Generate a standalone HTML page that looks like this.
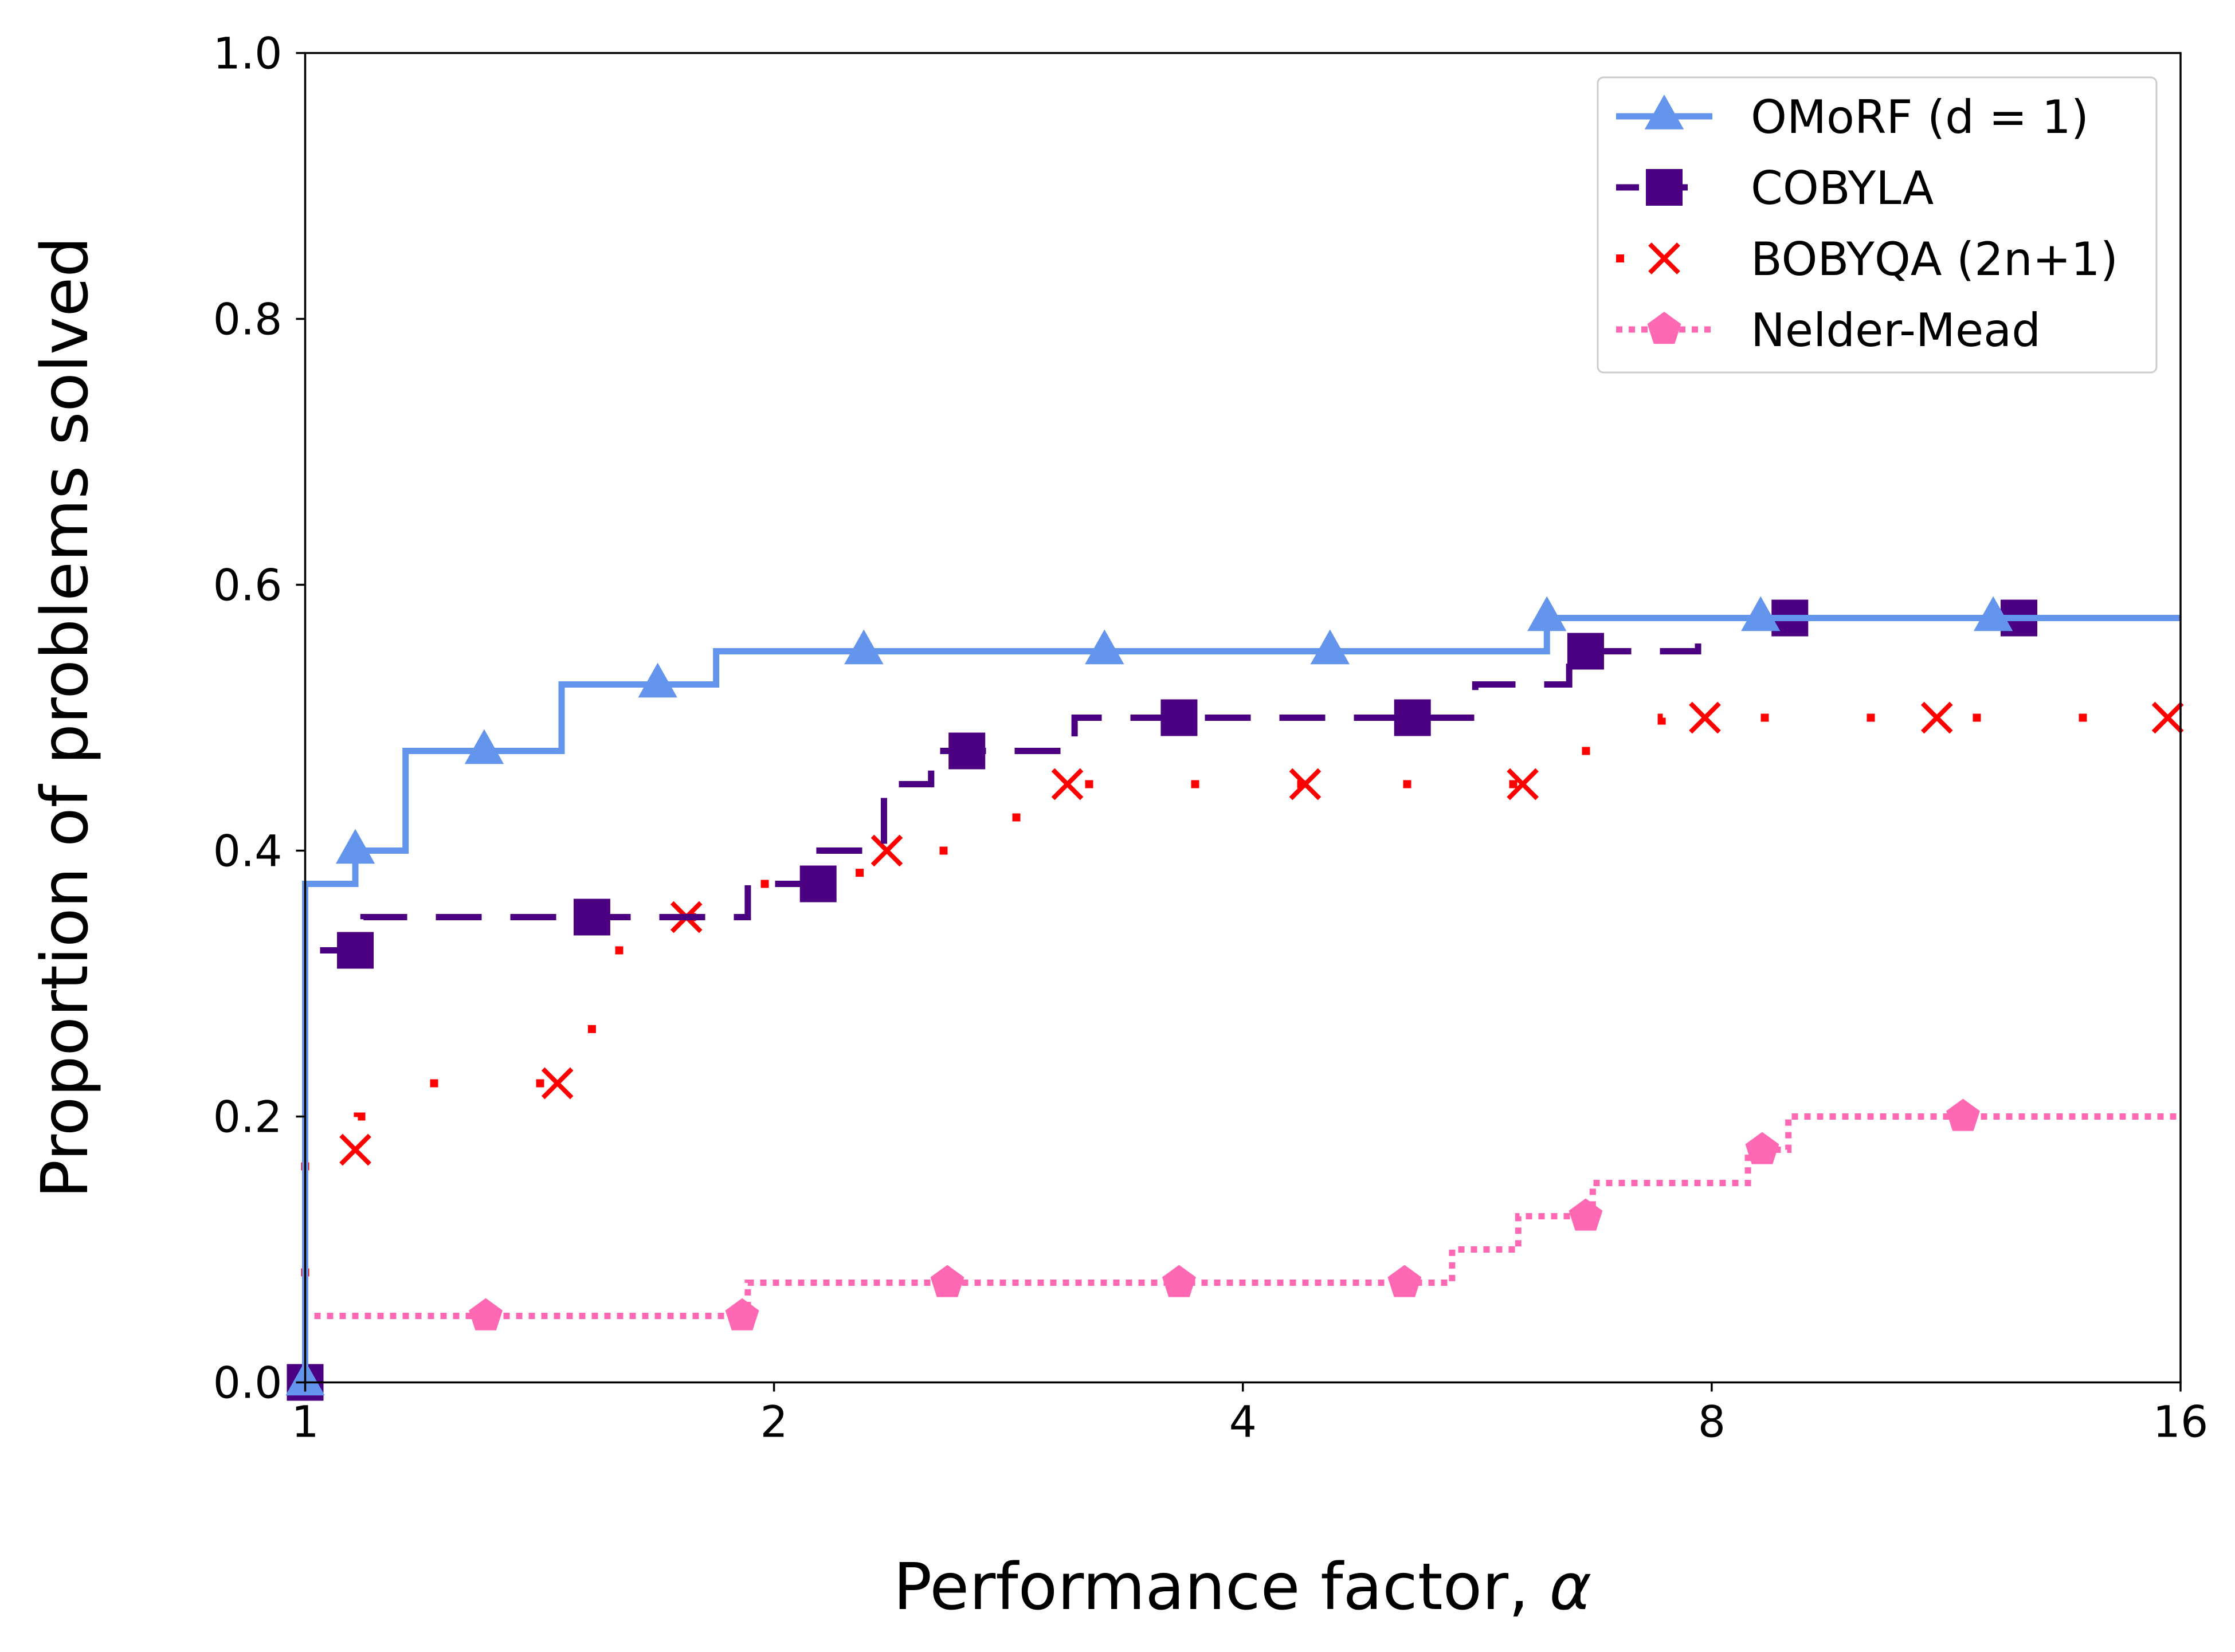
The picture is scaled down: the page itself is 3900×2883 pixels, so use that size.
<!DOCTYPE html>
<html><head><meta charset="utf-8"><style>
html,body{margin:0;padding:0;background:#fff;}
svg{display:block;font-family:"DejaVu Sans","Liberation Sans",sans-serif;}
</style></head><body>
<svg id="chart" width="3900" height="2883" viewBox="0 0 3900 2883" xmlns="http://www.w3.org/2000/svg">
<rect width="3900" height="2883" fill="#fff"/>
<g id="plot"></g>
<g id="axes"></g>
<text x="2168" y="2808" font-size="112" text-anchor="middle">Performance factor, <tspan font-style="italic">α</tspan></text>
<text transform="translate(152,1252) rotate(-90)" font-size="112" text-anchor="middle">Proportion of problems solved</text>
<g id="legend"></g>
</svg>
<script>
const xTicks=[1,2,4,8,16];
const yTicks=[0,0.2,0.4,0.6,0.8,1.0];
const yTickLabels=["0.0","0.2","0.4","0.6","0.8","1.0"];
const omorfAlpha=[1,1.077,1.16,1.461,1.836,6.27];
const omorfVal=[0.375,0.4,0.475,0.525,0.55,0.575];
const omorfMarks=[1,1.077,1.303,1.684,2.284,3.26,4.55,6.27,8.60,12.13];
const cobylaAlpha=[1,1.09,1.924,2.139,2.353,2.523,3.119,5.64,6.48,7.84];
const cobylaVal=[0.325,0.35,0.375,0.4,0.45,0.475,0.5,0.525,0.55,0.575];
const cobylaMarks=[1,1.077,1.528,2.135,2.66,3.64,5.14,6.64,8.98,12.6];
const bobyqaAlpha=[1,1.081,1.177,1.528,1.688,1.916,2.27,2.80,3.05,6.41,7.43];
const bobyqaVal=[0.175,0.2,0.225,0.325,0.35,0.375,0.4,0.425,0.45,0.475,0.5];
const bobyqaMarks=[1,1.077,1.452,1.757,2.363,3.086,4.386,6.05,7.92,11.16,15.7];
const nmAlpha=[1,1.924,5.45,6.01,6.71,8.44,8.96];
const nmVal=[0.05,0.075,0.1,0.125,0.15,0.175,0.2];
const nmMarks=[1,1.306,1.908,2.584,3.64,5.08,6.64,8.62,11.6];
const seriesNames=["OMoRF (d = 1)","COBYLA","BOBYQA (2n+1)","Nelder-Mead"];

const X0=532.5,X1=3805,Y0=2412.5,Y1=92.5,NS="http://www.w3.org/2000/svg";
const sx=a=>X0+(X1-X0)*Math.log2(a)/4;
const sy=v=>Y0-(Y0-Y1)*v;
function mk(tag,attrs,parent){const e=document.createElementNS(NS,tag);for(const k in attrs)e.setAttribute(k,attrs[k]);parent.appendChild(e);return e;}
const plot=document.getElementById('plot'),axes=document.getElementById('axes'),legend=document.getElementById('legend');
function valAt(al,vl,a){if(a<al[0]+1e-9)return 0;let v=0;for(let i=0;i<al.length;i++){if(al[i]<=a+1e-9)v=vl[i];}return v;}
function stepPath(al,vl){let d=`M${sx(1)},${sy(0)}`;for(let i=0;i<al.length;i++){d+=` L${sx(al[i])},${i?sy(vl[i-1]):sy(0)} L${sx(al[i])},${sy(vl[i])}`;}d+=` L${sx(16)},${sy(vl[vl.length-1])}`;return d;}
function marker(type,x,y,color,parent){let e;
 if(type==='tri'){const r=38;e=mk('polygon',{points:`${x},${y-r} ${x+r*0.9},${y+r*0.6} ${x-r*0.9},${y+r*0.6}`,fill:color},parent);}
 else if(type==='sq'){const s=32;e=mk('rect',{x:x-s,y:y-s,width:2*s,height:2*s,fill:color},parent);}
 else if(type==='x'){const s=25;e=mk('path',{d:`M${x-s},${y-s}L${x+s},${y+s}M${x-s},${y+s}L${x+s},${y-s}`,stroke:color,'stroke-width':8,fill:'none'},parent);}
 else {const r=31;let p=[];for(let k=0;k<5;k++){const t=-Math.PI/2+k*2*Math.PI/5;p.push(`${x+r*Math.cos(t)},${y+r*Math.sin(t)}`);}e=mk('polygon',{points:p.join(' '),fill:color},parent);}
 return e;}
const series=[
 {al:omorfAlpha,vl:omorfVal,mk:omorfMarks,color:'#6495ED',w:11,dash:'',type:'tri',name:'omorf'},
 {al:cobylaAlpha,vl:cobylaVal,mk:cobylaMarks,color:'#4B0082',w:11,dash:'80 50',type:'sq',name:'cobyla'},
 {al:bobyqaAlpha,vl:bobyqaVal,mk:bobyqaMarks,color:'#FF0000',w:14,dash:'14 171',type:'x',name:'bobyqa'},
 {al:nmAlpha,vl:nmVal,mk:nmMarks,color:'#FF69B4',w:11,dash:'11 11',type:'pent',name:'nelder-mead'}];
const order=[3,2,1,0];
order.forEach(i=>{const s=series[i];const g=mk('g',{},plot);
 
 
 const p=mk('path',{d:stepPath(s.al,s.vl),fill:'none',stroke:s.color,'stroke-width':s.w,'stroke-dasharray':s.dash},g);
 
 
 s.mk.forEach(a=>{const m=marker(s.type,sx(a),sy(valAt(s.al,s.vl,a)),s.color,g);
  
  });
});
const frame=mk('rect',{x:X0,y:Y1,width:X1-X0,height:Y0-Y1,fill:'none',stroke:'#000','stroke-width':3.5},axes);


xTicks.forEach(t=>{const x=sx(t);const l=mk('line',{x1:x,x2:x,y1:Y0,y2:Y0+16,stroke:'#000','stroke-width':3.5},axes);
 
 
 const tx=mk('text',{x:x,y:Y0+95,'font-size':76,'text-anchor':'middle'},axes);tx.textContent=t;
 
 });
yTicks.forEach((t,i)=>{const y=sy(t);const l=mk('line',{x1:X0-16,x2:X0,y1:y,y2:y,stroke:'#000','stroke-width':3.5},axes);
 
 
 const tx=mk('text',{x:X0-40,y:y+27,'font-size':76,'text-anchor':'end'},axes);tx.textContent=yTickLabels[i];
 
 });
// legend
const lb=mk('rect',{x:2788,y:135,width:975,height:515,rx:10,fill:'#fff',stroke:'#ccc','stroke-width':3},legend);


series.forEach((s,i)=>{const y=203+i*124;const g=mk('g',{},legend);
 
 
 mk('line',{x1:2820,x2:2988,y1:y,y2:y,stroke:s.color,'stroke-width':s.w,'stroke-dasharray':s.type==='x'?'14 200':(s.type==='sq'?'40 45':s.dash)},g);
 marker(s.type,2904,y,s.color,g);
 const t=mk('text',{x:3055,y:y+29,'font-size':80},g);t.textContent=seriesNames[i];});
</script>
</body></html>
